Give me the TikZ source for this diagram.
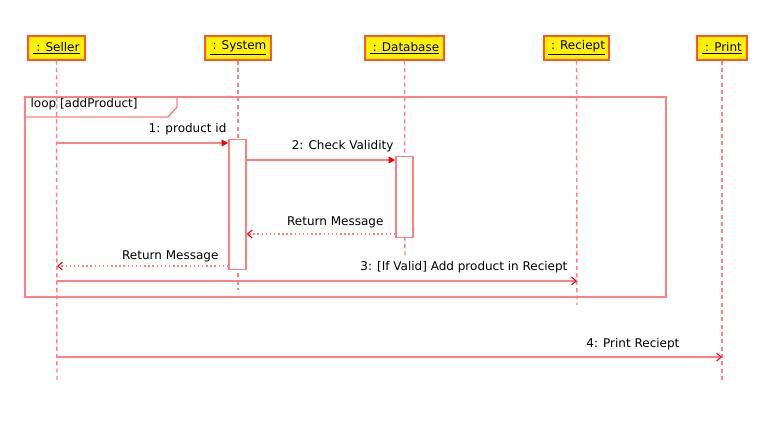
\documentclass[tikz,border=0pt]{standalone}
\usepackage{fontspec}
\setmainfont{DejaVu Sans}
\usetikzlibrary{arrows.meta}
\definecolor{ln}{HTML}{FF8080}
\definecolor{hd}{HTML}{FF5533}
\tikzset{
  head/.style={draw=hd, fill=yellow, line width=1.1pt, minimum height=24*0.75pt, inner xsep=3pt, font=\fontsize{9}{11}\selectfont},
  life/.style={draw=ln, line width=1.1pt, dash pattern=on 3pt off 2.5pt},
  act/.style={draw=ln, fill=white, line width=1.1pt},
  msg/.style={draw=ln, line width=1.1pt},
  sync/.style={msg, -{Triangle[length=5pt,width=5pt,color=red,fill=red]}},
  async/.style={msg, -{Straight Barb[length=3.5pt,width=6pt,color=red,line width=0.8pt]}},
  ret/.style={async, dotted},
  lbl/.style={font=\fontsize{9}{11}\selectfont, inner sep=1pt, anchor=east},
}
\begin{document}
\begin{tikzpicture}[x=0.75pt,y=-0.75pt]
\useasboundingbox (0,0) rectangle (779,429);
% heads
\node[head, minimum width=57*0.75pt] (seller) at (56.5,48) {\underline{\hspace{0.25em}: Seller}};
\node[head, minimum width=66*0.75pt] (system) at (238,48) {\underline{\hspace{0.25em}: System}};
\node[head, minimum width=79*0.75pt] (db) at (404.5,48) {\underline{\hspace{0.25em}: Database}};
\node[head, minimum width=65*0.75pt] (rec) at (576.5,48) {\underline{\hspace{0.25em}: Reciept}};
\node[head, minimum width=50*0.75pt] (prn) at (722,48) {\underline{\hspace{0.25em}: Print}};
% lifeline ends
\coordinate (sellerE) at (57,380);
\coordinate (systemE) at (238,290);
\coordinate (dbE) at (405,257);
\coordinate (recE) at (577,305);
\coordinate (prnE) at (722,380);
\draw[life] (seller.south) -- (sellerE);
\draw[life] (system.south) -- (systemE);
\draw[life] (db.south) -- (dbE);
\draw[life] (rec.south) -- (recE);
\draw[life] (prn.south) -- (prnE);
% loop frame
\draw[msg] (25,97) rectangle (666,297);
\draw[msg] (25,117) -- (168,117) -- (177,107) -- (177,97);
\node[font=\fontsize{9}{11}\selectfont, anchor=west, inner sep=1pt] (looplbl) at (29,104.5) {loop [addProduct]};
% activations
\node[act, minimum width=17*0.75pt, minimum height=130*0.75pt, inner sep=0pt, anchor=north] (actS) at (237.5,139) {};
\node[act, minimum width=17*0.75pt, minimum height=81*0.75pt, inner sep=0pt, anchor=north] (actD) at (404.5,156) {};
% message anchor points
\coordinate (s1) at (57,143);
\coordinate (t1) at (actS.west |- s1);
\coordinate (s2) at (actS.east |- 0,160);
\coordinate (t2) at (actD.west |- s2);
\coordinate (s3) at (actD.west |- 0,234);
\coordinate (t3) at (actS.east |- s3);
\coordinate (s4) at (actS.west |- 0,266);
\coordinate (t4) at (57,266);
\coordinate (s5) at (57,281);
\coordinate (t5) at (577,281);
\coordinate (s6) at (57,357);
\coordinate (t6) at (722,357);
\draw[sync] (s1) -- (t1);
\draw[sync] (s2) -- (t2);
\draw[ret] (s3) -- (t3);
\draw[ret] (s4) -- (t4);
\draw[async] (s5) -- (t5);
\draw[async] (s6) -- (t6);
\node[lbl] (l1) at (228,129) {1: product id};
\node[lbl] (l2) at (395,146) {2: Check Validity};
\node[lbl] (l3) at (385,222) {Return Message};
\node[lbl] (l4) at (220,256) {Return Message};
\node[lbl] (l5) at (569,267.5) {3: [If Valid] Add product in Reciept};
\node[lbl] (l6) at (681,344) {4: Print Reciept};
\end{tikzpicture}
\end{document}
